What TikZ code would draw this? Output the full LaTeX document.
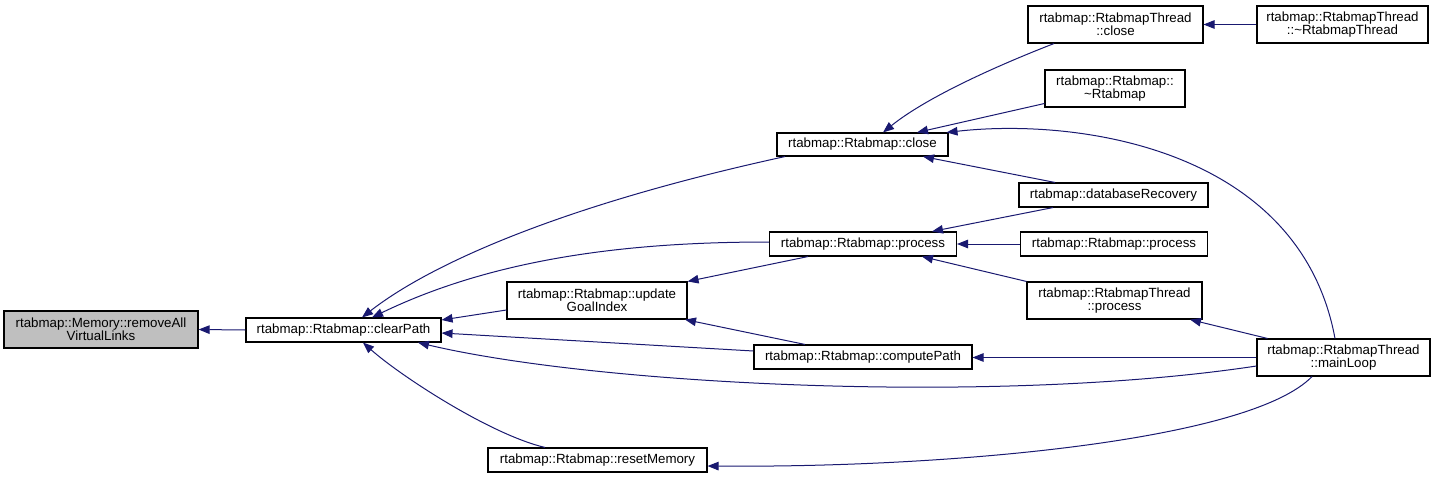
\documentclass[tikz,border=0pt]{standalone}
\usepackage{fontspec}
\setmainfont{Liberation Sans}
\usetikzlibrary{arrows.meta,calc,positioning}
\definecolor{edgeblue}{HTML}{191970}
\definecolor{hlgray}{HTML}{BFBFBF}

\begin{document}
\begin{tikzpicture}[x=1pt,y=-1pt,
    func/.style={draw=black,line width=1.1pt,fill=white,inner sep=0pt,align=center,
      font=\fontsize{13.3}{13}\selectfont},
    hl/.style={fill=hlgray},
    call/.style={draw=edgeblue,line width=1pt,-{Triangle[length=11pt,width=8.5pt]}}]
  \useasboundingbox (0,0) rectangle (1436,477);

  % functions
  \node[func,hl,minimum width=194,minimum height=37] (rem) at (101,329.5) {rtabmap::Memory::removeAll\\VirtualLinks};
  \node[func,minimum width=195,minimum height=24] (clr) at (343.5,330) {rtabmap::Rtabmap::clearPath};
  \node[func,minimum width=171,minimum height=23] (rclose) at (862.5,144.5) {rtabmap::Rtabmap::close};
  \node[func,minimum width=187,minimum height=24] (rproc) at (863,244) {rtabmap::Rtabmap::process};
  \node[func,minimum width=218,minimum height=24] (comp) at (863,357) {rtabmap::Rtabmap::computePath};
  \node[func,minimum width=180,minimum height=37] (upd) at (597,300.5) {rtabmap::Rtabmap::update\\GoalIndex};
  \node[func,minimum width=219,minimum height=24] (reset) at (597.5,460) {rtabmap::Rtabmap::resetMemory};
  \node[func,minimum width=175,minimum height=37] (tclose) at (1115.5,24.5) {rtabmap::RtabmapThread\\::close};
  \node[func,minimum width=140,minimum height=37] (rdtor) at (1115,88.5) {rtabmap::Rtabmap::\\\textasciitilde Rtabmap};
  \node[func,minimum width=189,minimum height=24] (dbrec) at (1113.5,195) {rtabmap::databaseRecovery};
  \node[func,minimum width=187,minimum height=24] (rproc2) at (1114,244) {rtabmap::Rtabmap::process};
  \node[func,minimum width=175,minimum height=37] (tproc) at (1114.5,300.5) {rtabmap::RtabmapThread\\::process};
  \node[func,minimum width=171,minimum height=37] (tdtor) at (1342.5,24.5) {rtabmap::RtabmapThread\\::\textasciitilde RtabmapThread};
  \node[func,minimum width=173,minimum height=37] (loop) at (1343.5,357.5) {rtabmap::RtabmapThread\\::mainLoop};

  % calls into clearPath
  \draw[call] (clr.west) -- (rem.east);
  \draw[call] ([xshift=-77.5pt]rclose.south) .. controls +(-225,49) and +(68,-53) .. ([xshift=18.5pt]clr.north);
  \draw[call] ([yshift=2pt]rproc.west) .. controls +(-129.5,0) and +(128,-62) .. ([xshift=28.5pt]clr.north);
  \draw[call] ([yshift=-9.5pt]upd.west) -- ([yshift=10pt]clr.east);
  \draw[call] ([yshift=6pt]comp.west) -- ([yshift=-3pt]clr.east);
  \draw[call] ([yshift=-8.5pt]loop.west) .. controls +(-257,39) and +(182,43) .. ([xshift=74.5pt]clr.south);
  \draw[call] ([xshift=-52.5pt]reset.north) .. controls +(-55,-13) and +(37,33) .. ([xshift=19.5pt]clr.south);

  % calls into close
  \draw[call] ([xshift=-61.5pt]tclose.south) .. controls +(-44,17) and +(47,-38) .. ([xshift=20.5pt]rclose.north);
  \draw[call] ([yshift=-15pt]rdtor.west) -- ([xshift=54.5pt]rclose.north);
  \draw[call] ([xshift=-8.5pt]loop.north) .. controls +(-35,-189) and +(133.5,-15) .. ([xshift=84pt]rclose.north);
  \draw[call] ([xshift=-58.5pt]dbrec.north) -- ([xshift=60.5pt]rclose.south);
  \draw[call] (tdtor.west) -- (tclose.east);

  % calls into process
  \draw[call] ([xshift=-60.5pt]dbrec.south) -- ([xshift=69pt]rproc.north);
  \draw[call] (rproc2.west) -- (rproc.east);
  \draw[call] (tproc.north west) -- ([xshift=59pt]rproc.south);

  % calls into updateGoalIndex, computePath, resetMemory
  \draw[call] ([xshift=-55pt]rproc.south) -- (upd.north east);
  \draw[call] ([xshift=-58pt]comp.north) -- ([xshift=88pt]upd.south);
  \draw[call] (loop.west) -- (loop.west -| comp.east);
  \draw[call] ([xshift=-76pt]loop.north) -- ([xshift=75.5pt]tproc.south);
  \draw[call] ([xshift=-31.5pt]loop.south) .. controls +(-62,64) and +(243,2) .. ([yshift=-6pt]reset.east);
\end{tikzpicture}
\end{document}
